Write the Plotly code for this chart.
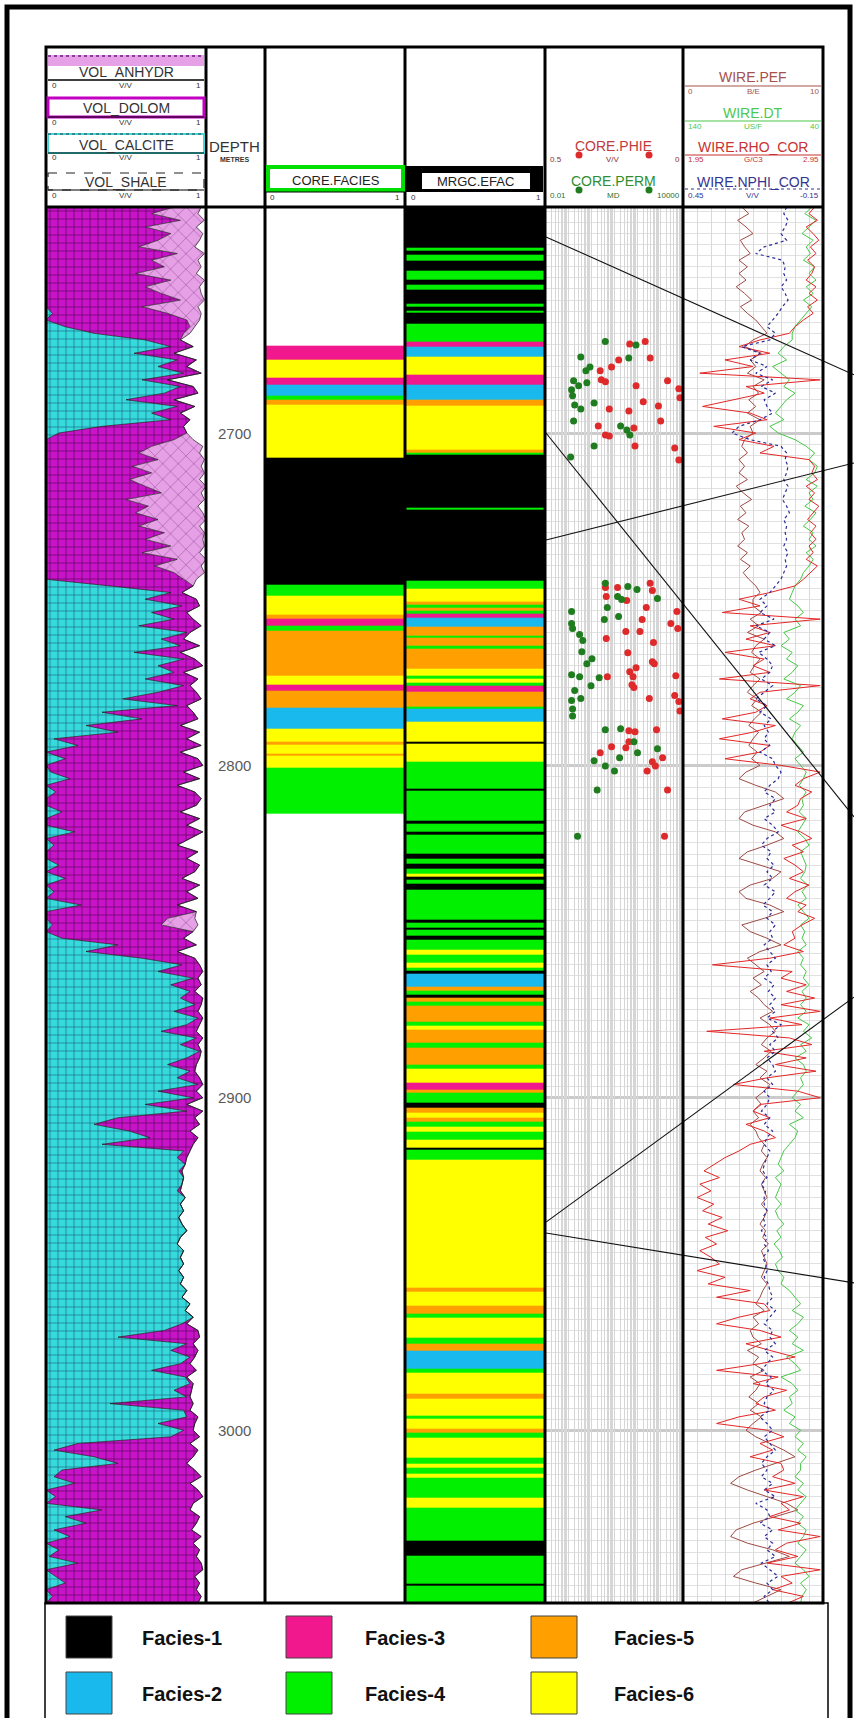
import plotly.graph_objects as go

W, H = 854, 1718
FONT = "Liberation Sans, Arial, sans-serif"


def px(x):
    return x / W


def py(y):
    return 1 - y / H


# ---------------- data ----------------
DEPTH = [
    2632, 2634, 2636, 2638, 2640, 2642, 2644, 2646, 2648, 2650,
    2652, 2654, 2656, 2658, 2660, 2662, 2664, 2666, 2668, 2670,
    2672, 2674, 2676, 2678, 2680, 2682, 2684, 2686, 2688, 2690,
    2692, 2694, 2696, 2698, 2700, 2702, 2704, 2706, 2708, 2710,
    2712, 2714, 2716, 2718, 2720, 2722, 2724, 2726, 2728, 2730,
    2732, 2734, 2736, 2738, 2740, 2742, 2744, 2746, 2748, 2750,
    2752, 2754, 2756, 2758, 2760, 2762, 2764, 2766, 2768, 2770,
    2772, 2774, 2776, 2778, 2780, 2782, 2784, 2786, 2788, 2790,
    2792, 2794, 2796, 2798, 2800, 2802, 2804, 2806, 2808, 2810,
    2812, 2814, 2816, 2818, 2820, 2822, 2824, 2826, 2828, 2830,
    2832, 2834, 2836, 2838, 2840, 2842, 2844, 2846, 2848, 2850,
    2852, 2854, 2856, 2858, 2860, 2862, 2864, 2866, 2868, 2870,
    2872, 2874, 2876, 2878, 2880, 2882, 2884, 2886, 2888, 2890,
    2892, 2894, 2896, 2898, 2900, 2902, 2904, 2906, 2908, 2910,
    2912, 2914, 2916, 2918, 2920, 2922, 2924, 2926, 2928, 2930,
    2932, 2934, 2936, 2938, 2940, 2942, 2944, 2946, 2948, 2950,
    2952, 2954, 2956, 2958, 2960, 2962, 2964, 2966, 2968, 2970,
    2972, 2974, 2976, 2978, 2980, 2982, 2984, 2986, 2988, 2990,
    2992, 2994, 2996, 2998, 3000, 3002, 3004, 3006, 3008, 3010,
    3012, 3014, 3016, 3018, 3020, 3022, 3024, 3026, 3028, 3030,
    3032, 3034, 3036, 3038, 3040, 3042, 3044, 3046, 3048, 3050,
    3052]

# right edge of the calcite fill and of the dolomite fill (cumulative, V/V)
CALCITE_TOP = [
    0, 0, 0, 0, 0, 0, 0, 0, 0, 0,
    0, 0, 0, 0, 0, 0, 0.04, 0, 0.12, 0.30,
    0.62, 0.78, 0.55, 0.82, 0.70, 0.86, 0.60, 0.84, 0.74, 0.50,
    0.82, 0.66, 0.78, 0.35, 0.08, 0, 0, 0, 0, 0,
    0, 0, 0, 0, 0, 0, 0, 0, 0, 0,
    0, 0, 0, 0, 0, 0, 0, 0.40, 0.78, 0.62,
    0.85, 0.66, 0.80, 0.58, 0.88, 0.72, 0.84, 0.55, 0.86, 0.70,
    0.80, 0.62, 0.86, 0.70, 0.48, 0.82, 0.35, 0.60, 0.25, 0.45,
    0.05, 0.20, 0, 0.12, 0, 0.03, 0.15, 0, 0.06, 0,
    0, 0.10, 0, 0, 0.18, 0, 0.05, 0, 0, 0.08,
    0, 0.12, 0, 0.05, 0, 0.22, 0, 0, 0.04, 0,
    0.10, 0.45, 0.25, 0.60, 0.85, 0.70, 0.92, 0.78, 0.90, 0.84,
    0.93, 0.80, 0.95, 0.88, 0.72, 0.94, 0.84, 0.96, 0.88, 0.76,
    0.90, 0.82, 0.95, 0.70, 0.92, 0.62, 0.88, 0.45, 0.30, 0.52,
    0.65, 0.35, 0.86, 0.82, 0.87, 0.83, 0.86, 0.85, 0.82, 0.87,
    0.84, 0.86, 0.83, 0.85, 0.88, 0.84, 0.82, 0.86, 0.84, 0.86,
    0.83, 0.86, 0.84, 0.88, 0.85, 0.90, 0.87, 0.92, 0.85, 0.74,
    0.45, 0.88, 0.78, 0.90, 0.84, 0.66, 0.87, 0.90, 0.80, 0.88,
    0.40, 0.86, 0.88, 0.70, 0.86, 0.78, 0.20, 0.05, 0.30, 0.45,
    0.10, 0.05, 0.18, 0, 0.06, 0, 0.35, 0.12, 0.25, 0.05,
    0.15, 0, 0.08, 0.02, 0.20, 0, 0.06, 0.12, 0, 0.04,
    0]

DOLOMITE_TOP = [
    0.80, 0.66, 0.84, 0.62, 0.78, 0.70, 0.58, 0.82, 0.66, 0.74,
    0.56, 0.78, 0.62, 0.72, 0.84, 0.60, 0.76, 0.88, 0.90, 0.86,
    0.84, 0.92, 0.80, 0.94, 0.88, 0.97, 0.76, 0.92, 0.95, 0.80,
    0.93, 0.84, 0.90, 0.86, 0.88, 0.80, 0.66, 0.58, 0.70, 0.54,
    0.66, 0.52, 0.62, 0.72, 0.50, 0.64, 0.56, 0.70, 0.58, 0.74,
    0.62, 0.78, 0.60, 0.82, 0.68, 0.80, 0.86, 0.92, 0.85, 0.94,
    0.96, 0.88, 0.92, 0.97, 0.90, 0.86, 0.96, 0.84, 0.93, 0.98,
    0.86, 0.95, 0.90, 0.94, 0.97, 0.88, 0.92, 0.95, 0.84, 0.96,
    0.88, 0.97, 0.84, 0.95, 0.98, 0.86, 0.96, 0.82, 0.93, 0.97,
    0.94, 0.84, 0.96, 0.88, 0.98, 0.90, 0.82, 0.95, 0.88, 0.96,
    0.93, 0.85, 0.96, 0.88, 0.95, 0.82, 0.94, 0.76, 0.72, 0.92,
    0.86, 0.94, 0.82, 0.93, 0.96, 0.98, 0.95, 0.97, 0.93, 0.98,
    0.97, 0.95, 0.98, 0.96, 0.94, 0.98, 0.95, 0.97, 0.96, 0.94,
    0.93, 0.96, 0.98, 0.94, 0.98, 0.88, 0.98, 0.93, 0.96, 0.90,
    0.95, 0.92, 0.90, 0.88, 0.87, 0.85, 0.86, 0.85, 0.84, 0.87,
    0.84, 0.86, 0.83, 0.85, 0.88, 0.84, 0.82, 0.86, 0.84, 0.86,
    0.83, 0.86, 0.84, 0.88, 0.85, 0.90, 0.87, 0.92, 0.88, 0.95,
    0.96, 0.92, 0.95, 0.93, 0.90, 0.94, 0.88, 0.92, 0.91, 0.90,
    0.92, 0.90, 0.95, 0.93, 0.92, 0.96, 0.90, 0.95, 0.92, 0.88,
    0.93, 0.97, 0.90, 0.95, 0.98, 0.92, 0.90, 0.96, 0.94, 0.91,
    0.97, 0.92, 0.96, 0.94, 0.97, 0.98, 0.93, 0.96, 0.94, 0.97,
    0.95]

# anhydrite volume (V/V), stacked on top of the dolomite edge
VOL_ANHYDR = [
    0.17, 0.29, 0.15, 0.32, 0.20, 0.26, 0.35, 0.17, 0.29, 0.23,
    0.38, 0.21, 0.34, 0.25, 0.15, 0.35, 0.21, 0.08, 0.03, 0.04,
    0, 0, 0, 0, 0, 0, 0, 0, 0, 0,
    0, 0, 0, 0, 0, 0.12, 0.32, 0.38, 0.29, 0.43,
    0.33, 0.44, 0.38, 0.25, 0.49, 0.31, 0.42, 0.30, 0.38, 0.25,
    0.36, 0.21, 0.36, 0.18, 0.29, 0.19, 0.08, 0, 0, 0,
    0, 0, 0, 0, 0, 0, 0, 0, 0, 0,
    0, 0, 0, 0, 0, 0, 0, 0, 0, 0,
    0, 0, 0, 0, 0, 0, 0, 0, 0, 0,
    0, 0, 0, 0, 0, 0, 0, 0, 0, 0,
    0, 0, 0, 0, 0, 0, 0, 0.17, 0.23, 0,
    0, 0, 0, 0, 0, 0, 0, 0, 0, 0,
    0, 0, 0, 0, 0, 0, 0, 0, 0, 0,
    0, 0, 0, 0, 0, 0, 0, 0, 0, 0,
    0, 0, 0, 0, 0, 0, 0, 0, 0, 0,
    0, 0, 0, 0, 0, 0, 0, 0, 0, 0,
    0, 0, 0, 0, 0, 0, 0, 0, 0, 0,
    0, 0, 0, 0, 0, 0, 0, 0, 0, 0,
    0, 0, 0, 0, 0, 0, 0, 0, 0, 0,
    0, 0, 0, 0, 0, 0, 0, 0, 0, 0,
    0, 0, 0, 0, 0, 0, 0, 0, 0, 0,
    0]

WIRE_PEF = [
    4.2, 4.7, 3.9, 4.5, 5.0, 4.1, 4.4, 4.8, 4.0, 4.6,
    4.0, 4.5, 3.8, 4.4, 4.9, 4.1, 4.6, 5.2, 5.6, 6.0,
    5.0, 4.4, 5.6, 4.8, 5.2, 4.6, 5.8, 5.0, 5.4, 4.7,
    5.2, 4.6, 5.5, 4.8, 5.0, 4.4, 4.2, 4.6, 4.0, 4.4,
    4.0, 4.6, 3.8, 4.3, 4.9, 4.1, 4.5, 3.9, 4.7, 4.2,
    4.4, 3.9, 4.6, 4.1, 4.8, 4.3, 4.7, 5.2, 5.5, 5.0,
    5.0, 5.6, 4.8, 5.4, 4.6, 5.8, 5.2, 4.9, 5.5, 5.1,
    4.8, 5.5, 5.0, 4.6, 5.3, 4.9, 5.6, 5.1, 4.7, 5.4,
    5.0, 4.7, 5.3, 4.9, 5.5, 4.5, 4.0, 5.2, 6.6, 7.2,
    5.8, 4.4, 4.0, 5.0, 6.6, 7.2, 6.0, 4.6, 4.0, 5.5,
    7.0, 6.4, 4.8, 4.0, 4.5, 6.2, 7.2, 5.8, 4.2, 4.8,
    6.0, 7.0, 5.5, 4.6, 5.2, 5.8, 5.0, 5.6, 4.8, 5.4,
    5.8, 6.4, 5.5, 6.2, 6.6, 6.0, 5.6, 6.3, 5.8, 5.2,
    6.0, 5.5, 6.2, 5.8, 5.2, 5.6, 5.0, 5.4, 4.8, 5.2,
    5.4, 5.8, 5.6, 6.0, 5.7, 5.5, 5.9, 5.6, 5.8, 6.0,
    5.6, 6.0, 5.8, 5.5, 5.9, 5.7, 6.1, 5.6, 5.8, 6.0,
    5.8, 5.6, 6.0, 5.7, 5.5, 5.2, 5.8, 5.0, 5.4, 4.8,
    5.0, 5.6, 4.6, 5.4, 5.0, 5.8, 4.8, 5.5, 5.2, 4.7,
    5.4, 4.8, 5.6, 5.0, 4.5, 5.2, 6.2, 7.2, 8.0, 6.6,
    5.2, 4.0, 3.4, 4.6, 6.0, 7.4, 8.2, 6.6, 5.0, 3.8,
    3.4, 4.6, 6.4, 7.6, 5.8, 4.2, 3.6, 5.2, 7.0, 6.0,
    5.0]

WIRE_RHO_COR = [
    2.89, 2.85, 2.91, 2.83, 2.88, 2.92, 2.86, 2.90, 2.84, 2.89,
    2.87, 2.83, 2.90, 2.85, 2.91, 2.84, 2.88, 2.81, 2.75, 2.71,
    2.50, 2.35, 2.57, 2.25, 2.45, 2.07, 2.93, 2.40, 2.53, 2.30,
    2.09, 2.43, 2.55, 2.17, 2.47, 2.35, 2.60, 2.50, 2.85, 2.89,
    2.87, 2.91, 2.83, 2.89, 2.85, 2.92, 2.88, 2.84, 2.90, 2.86,
    2.90, 2.85, 2.88, 2.83, 2.91, 2.86, 2.81, 2.75, 2.57, 2.35,
    2.50, 2.23, 2.93, 2.43, 2.57, 2.40, 2.61, 2.25, 2.53, 2.45,
    2.57, 2.21, 2.93, 2.50, 2.43, 2.55, 2.47, 2.23, 2.61, 2.45,
    2.21, 2.57, 2.50, 2.25, 2.65, 2.93, 2.81, 2.75, 2.87, 2.79,
    2.77, 2.69, 2.83, 2.65, 2.79, 2.87, 2.73, 2.81, 2.67, 2.75,
    2.81, 2.71, 2.85, 2.75, 2.69, 2.83, 2.77, 2.89, 2.80, 2.73,
    2.75, 2.67, 2.81, 2.57, 2.16, 2.73, 2.65, 2.83, 2.69, 2.89,
    2.65, 2.93, 2.57, 2.80, 2.12, 2.71, 2.87, 2.53, 2.83, 2.61,
    2.90, 2.55, 2.31, 2.77, 2.93, 2.50, 2.45, 2.57, 2.40, 2.53,
    2.61, 2.43, 2.35, 2.25, 2.17, 2.10, 2.21, 2.07, 2.15, 2.05,
    2.17, 2.09, 2.23, 2.13, 2.27, 2.11, 2.19, 2.07, 2.15, 2.21,
    2.05, 2.25, 2.13, 2.43, 2.19, 2.53, 2.57, 2.35, 2.19, 2.50,
    2.65, 2.40, 2.57, 2.75, 2.50, 2.19, 2.63, 2.45, 2.69, 2.53,
    2.47, 2.61, 2.35, 2.19, 2.55, 2.67, 2.50, 2.59, 2.43, 2.65,
    2.67, 2.59, 2.75, 2.53, 2.81, 2.65, 2.71, 2.57, 2.79, 2.63,
    2.93, 2.69, 2.61, 2.77, 2.55, 2.93, 2.65, 2.73, 2.59, 2.81,
    2.70]

WIRE_NPHI_COR = [
    0.006, 0.018, 0.0, 0.012, 0.03, 0.006, 0.102, 0.138, 0.024, 0.012,
    0.018, 0.006, 0.03, 0.012, 0.0, 0.024, 0.042, 0.066, 0.09, 0.054,
    0.078, 0.198, 0.12, 0.162, 0.09, 0.138, 0.066, 0.114, 0.054, 0.102,
    0.09, 0.066, 0.12, 0.21, 0.24, 0.162, 0.03, 0.006, 0.012, 0.0,
    0.006, 0.018, 0.0, 0.012, 0.024, 0.006, -0.006, 0.018, 0.006, 0.012,
    0.006, 0.018, 0.0, 0.012, 0.006, 0.018, 0.03, 0.054, 0.078, 0.12,
    0.09, 0.12, 0.06, 0.138, 0.078, 0.102, 0.054, 0.126, 0.09, 0.066,
    0.078, 0.114, 0.066, 0.102, 0.138, 0.09, 0.12, 0.072, 0.102, 0.084,
    0.102, 0.078, 0.12, 0.066, 0.054, 0.03, 0.042, 0.078, 0.102, 0.054,
    0.078, 0.054, 0.102, 0.066, 0.042, 0.09, 0.114, 0.072, 0.09, 0.06,
    0.09, 0.066, 0.102, 0.054, 0.078, 0.108, 0.066, 0.09, 0.054, 0.078,
    0.066, 0.102, 0.078, 0.054, 0.09, 0.072, 0.102, 0.06, 0.084, 0.054,
    0.078, 0.054, 0.09, 0.03, 0.066, 0.042, 0.078, 0.054, 0.09, 0.066,
    0.054, 0.09, 0.066, 0.102, 0.078, 0.09, 0.114, 0.078, 0.102, 0.066,
    0.09, 0.102, 0.078, 0.09, 0.102, 0.108, 0.09, 0.114, 0.096, 0.102,
    0.102, 0.09, 0.108, 0.096, 0.114, 0.09, 0.102, 0.084, 0.108, 0.096,
    0.09, 0.102, 0.084, 0.078, 0.066, 0.09, 0.054, 0.078, 0.102, 0.066,
    0.078, 0.054, 0.102, 0.066, 0.09, 0.114, 0.072, 0.096, 0.06, 0.09,
    0.102, 0.078, 0.12, 0.09, 0.066, 0.102, 0.078, 0.054, 0.09, 0.114,
    0.09, 0.114, 0.066, 0.102, 0.054, 0.138, 0.09, 0.078, 0.12, 0.066,
    0.102, 0.066, 0.09, 0.054, 0.114, 0.078, 0.042, 0.09, 0.066, 0.102,
    0.08]

WIRE_DT = [
    48, 53, 45, 50, 55, 47, 52, 49, 54, 46,
    50, 45, 52, 47, 54, 48, 52, 56, 60, 62,
    62, 68, 72, 66, 76, 70, 64, 68, 60, 66,
    70, 74, 68, 78, 72, 60, 52, 46, 50, 44,
    46, 52, 44, 50, 47, 53, 45, 49, 54, 47,
    50, 45, 52, 47, 50, 54, 56, 60, 62, 64,
    58, 54, 60, 56, 68, 64, 70, 62, 66, 58,
    62, 68, 56, 60, 66, 54, 58, 64, 56, 60,
    62, 58, 54, 60, 56, 52, 54, 57, 52, 55,
    54, 57, 52, 55, 58, 53, 50, 56, 54, 52,
    53, 56, 51, 55, 52, 58, 54, 50, 56, 53,
    55, 52, 58, 54, 56, 52, 54, 50, 55, 52,
    56, 52, 58, 50, 54, 48, 56, 52, 60, 54,
    52, 56, 54, 58, 62, 56, 60, 54, 64, 58,
    60, 64, 68, 70, 72, 68, 74, 70, 72, 74,
    70, 74, 72, 68, 73, 70, 75, 71, 69, 74,
    72, 68, 70, 64, 60, 56, 62, 54, 58, 64,
    58, 62, 54, 66, 60, 56, 70, 62, 58, 64,
    62, 68, 60, 64, 56, 60, 54, 58, 52, 56,
    56, 60, 54, 58, 52, 56, 60, 54, 58, 52,
    54, 58, 52, 56, 60, 54, 50, 56, 52, 55,
    56]

# facies intervals: top depth of each interval and facies code (None = no core)
CORE_FACIES_TOP = [2631.0, 2673.8, 2678.0, 2683.4, 2685.5, 2688.8, 2690.0, 2691.5,
                   2707.5, 2745.5, 2748.9, 2754.6, 2755.8, 2757.9, 2759.4, 2773.0,
                   2775.7, 2777.5, 2782.7, 2789.0, 2792.9, 2793.8, 2796.4, 2797.0,
                   2800.8, 2814.6]
CORE_FACIES_CODE = [None, 3, 6, 3, 2, 4, 5, 6,
                    1, 4, 6, 5, 3, 4, 5, 6,
                    3, 5, 2, 6, 5, 6, 5, 6,
                    4, None]

MRGC_TOP = [2631.0, 2644.2, 2645.1, 2646.3, 2648.1, 2651.1, 2653.8, 2655.4, 2656.9, 2661.1,
            2662.0, 2663.2, 2663.8, 2667.1, 2672.5, 2674.1, 2677.1, 2682.5, 2685.5, 2690.0,
            2691.9, 2705.1, 2706.0, 2706.6, 2722.6, 2723.1, 2744.3, 2746.8, 2750.7, 2751.6,
            2752.5, 2753.4, 2754.3, 2755.5, 2758.2, 2760.9, 2761.6, 2764.0, 2764.8, 2770.9,
            2773.0, 2774.0, 2775.0, 2776.0, 2777.8, 2782.4, 2783.0, 2786.9, 2792.9, 2793.5,
            2798.9, 2807.1, 2807.5, 2816.7, 2817.6, 2819.8, 2820.7, 2826.7, 2828.0, 2829.5,
            2831.2, 2832.5, 2833.6, 2834.5, 2835.6, 2837.3, 2846.3, 2847.3, 2848.7, 2849.5,
            2851.1, 2852.3, 2855.4, 2856.9, 2859.3, 2860.8, 2861.8, 2862.6, 2866.5, 2867.7,
            2868.9, 2869.8, 2871.2, 2872.4, 2877.1, 2878.3, 2879.5, 2883.4, 2884.9, 2890.0,
            2891.1, 2895.5, 2897.6, 2898.6, 2901.5, 2903.0, 2904.5, 2906.0, 2907.2, 2908.7,
            2910.3, 2912.7, 2915.1, 2915.7, 2918.7, 2957.0, 2958.2, 2962.4, 2964.9, 2966.2,
            2972.1, 2973.9, 2976.0, 2981.4, 2982.7, 2989.0, 2990.5, 2995.6, 2996.5, 2999.5,
            3000.8, 3002.2, 3008.3, 3010.1, 3011.3, 3013.1, 3014.3, 3020.4, 3023.4, 3033.3,
            3037.9, 3046.3, 3046.9]
MRGC_CODE = [1, 4, 1, 4, 1, 4, 1, 4, 1, 4,
             1, 4, 1, 4, 3, 2, 6, 3, 2, 5,
             6, 5, 4, 1, 4, 1, 4, 6, 5, 4,
             5, 4, 3, 2, 5, 4, 5, 4, 5, 6,
             4, 6, 4, 3, 5, 4, 2, 6, 1, 6,
             4, 1, 4, 1, 4, 1, 4, 1, 4, 1,
             4, 6, 1, 4, 1, 4, 1, 4, 1, 4,
             1, 4, 6, 4, 6, 4, 1, 2, 5, 4,
             1, 5, 4, 5, 4, 6, 5, 4, 5, 4,
             6, 3, 5, 4, 1, 5, 6, 5, 4, 6,
             4, 6, 1, 4, 6, 5, 6, 5, 4, 6,
             4, 5, 2, 4, 6, 5, 6, 4, 6, 5,
             4, 6, 4, 6, 4, 6, 4, 6, 4, 1,
             4, 1, 4]
BASE_DEPTH = 3052.0

# core plugs
PHIE_DEPTH = [2673.2, 2672.5, 2677.4, 2678.0, 2680.1, 2681.3, 2684.0, 2684.6, 2684.3, 2685.8,
              2686.7, 2689.4, 2690.6, 2691.9, 2692.8, 2693.4, 2696.4, 2697.9, 2698.5, 2700.6,
              2700.9, 2703.9, 2704.5, 2708.1,
              2746.5, 2746.5, 2745.2, 2747.4, 2749.2, 2750.4, 2752.5, 2753.7, 2757.3, 2756.1,
              2759.7, 2759.7, 2758.8, 2761.8, 2763.0, 2766.1, 2768.8, 2769.4, 2770.6, 2771.8,
              2773.3, 2773.3, 2773.0, 2775.7, 2776.6, 2779.9, 2779.0, 2780.8, 2783.6, 2789.6,
              2789.9, 2789.3, 2794.4, 2796.2, 2794.7, 2792.9, 2797.7, 2798.9, 2800.2, 2801.7,
              2807.4, 2821.3]
PHIE_VALUE = [0.193, 0.137, 0.119, 0.233, 0.259, 0.300, 0.296, 0.281, 0.056, 0.170,
              0.015, 0.011, 0.144, 0.089, 0.267, 0.196, 0.081, 0.307, 0.178, 0.281,
              0.267, 0.174, 0.030, 0.015,
              0.281, 0.237, 0.119, 0.111, 0.278, 0.204, 0.133, 0.022, 0.044, 0.148,
              0.156, 0.207, 0.019, 0.278, 0.107, 0.200, 0.111, 0.104, 0.170, 0.193,
              0.181, 0.274, 0.026, 0.185, 0.178, 0.122, 0.030, 0.015, 0.011, 0.196,
              0.174, 0.096, 0.259, 0.300, 0.207, 0.196, 0.074, 0.111, 0.100, 0.130,
              0.056, 0.067]

PERM_DEPTH = [2672.5, 2673.5, 2677.1, 2677.4, 2681.3, 2680.1, 2684.3, 2685.8, 2684.9, 2687.0,
              2688.8, 2691.6, 2692.8, 2691.0, 2696.4, 2697.9, 2699.1, 2700.6, 2703.9, 2707.2,
              2745.2, 2746.2, 2747.1, 2749.2, 2749.8, 2750.1, 2752.5, 2755.2, 2756.1, 2753.7,
              2757.3, 2758.8, 2760.6, 2762.4, 2765.8, 2767.9, 2769.4, 2772.7, 2773.3, 2773.6,
              2776.0, 2777.5, 2779.9, 2780.5, 2783.0, 2785.1, 2789.3, 2789.0, 2792.9, 2797.7,
              2798.6, 2800.2, 2801.7, 2795.0, 2796.2, 2807.4, 2821.3]
PERM_VALUE = [4.19, 90.3, 0.36, 44.0, 0.60, 0.90, 0.175, 0.29, 0.66, 0.143,
              0.158, 0.195, 0.36, 1.36, 0.175, 19.4, 36.0, 49.0, 1.36, 0.13,
              4.2, 40.0, 100.0, 14.3, 774.0, 21.5, 5.1, 15.8, 3.8, 0.143,
              0.143, 0.158, 0.32, 0.44, 0.40, 1.1, 0.66, 0.143, 0.32, 2.27,
              1.0, 0.195, 0.36, 0.143, 0.158, 0.158, 4.2, 19.4, 73.6, 17.5,
              1.36, 4.2, 10.5, 774.0, 105.0, 1.85, 0.26]

DEPTH_LABELS = [2700, 2800, 2900, 3000]

# zoom-link lines: depth on the MRGC track -> depth at the page edge
LINK_FROM_DEPTH = [2641.0, 2700.0, 2732.2, 2937.4, 2940.7]
LINK_TO_DEPTH = [2682.5, 2815.5, 2709.0, 2869.7, 2955.7]

FACIES_NAMES = ["Facies-1", "Facies-2", "Facies-3", "Facies-4", "Facies-5", "Facies-6"]
FACIES_COLORS = ["#000000", "#19B9EE", "#F0188C", "#00F000", "#FFA000", "#FFFF00"]

PHIE_RANGE = [0.5, 0.0]
PERM_RANGE = [0.01, 10000]
PEF_RANGE = [0, 10]
DT_RANGE = [140, 40]
RHO_RANGE = [1.95, 2.95]
NPHI_RANGE = [0.45, -0.15]

for name, arr in [("CALCITE_TOP", CALCITE_TOP), ("DOLOMITE_TOP", DOLOMITE_TOP),
                  ("VOL_ANHYDR", VOL_ANHYDR), ("WIRE_PEF", WIRE_PEF),
                  ("WIRE_RHO_COR", WIRE_RHO_COR), ("WIRE_NPHI_COR", WIRE_NPHI_COR),
                  ("WIRE_DT", WIRE_DT)]:
    if len(arr) != len(DEPTH):
        raise SystemExit(f"{name} has {len(arr)} values, expected {len(DEPTH)}")

ANHYDRITE_TOP = [d + a for d, a in zip(DOLOMITE_TOP, VOL_ANHYDR)]

# ---------------- figure ----------------
TOP_PX, BOT_PX = 207, 1603
Y_RANGE = [3052, 2632]
YDOM = [py(BOT_PX), py(TOP_PX)]

fig = go.Figure()

# lithology track
fig.add_trace(go.Scatter(
    x=CALCITE_TOP, y=DEPTH, xaxis="x", yaxis="y", mode="lines",
    line=dict(color="#1a1a1a", width=0.7), fill="tozerox", fillcolor="#36DADA",
    fillpattern=dict(shape="+", fgcolor="#1B6A86", bgcolor="#36DADA", size=8,
                     solidity=0.16, fillmode="replace"),
    hoverinfo="skip"))
fig.add_trace(go.Scatter(
    x=DOLOMITE_TOP, y=DEPTH, xaxis="x", yaxis="y", mode="lines",
    line=dict(color="#1a1a1a", width=0.7), fill="tonextx", fillcolor="#C814C8",
    fillpattern=dict(shape="+", fgcolor="#560656", bgcolor="#C814C8", size=8,
                     solidity=0.16, fillmode="replace"),
    hoverinfo="skip"))
fig.add_trace(go.Scatter(
    x=ANHYDRITE_TOP, y=DEPTH, xaxis="x", yaxis="y", mode="lines",
    line=dict(color="#1a1a1a", width=0.7), fill="tonextx", fillcolor="#E6A0E6",
    fillpattern=dict(shape="x", fgcolor="#8A3A8A", bgcolor="#E6A0E6", size=11,
                     solidity=0.08, fillmode="replace"),
    hoverinfo="skip"))

# facies colourscale (discrete)
cs = []
for i, c in enumerate(FACIES_COLORS):
    cs.append([i / 6, c])
    cs.append([(i + 1) / 6, c])

fig.add_trace(go.Heatmap(
    x=[0, 1], y=CORE_FACIES_TOP + [BASE_DEPTH], z=[[v] for v in CORE_FACIES_CODE],
    xaxis="x2", yaxis="y", colorscale=cs, zmin=0.5, zmax=6.5, showscale=False,
    hoverinfo="skip"))
fig.add_trace(go.Heatmap(
    x=[0, 1], y=MRGC_TOP + [BASE_DEPTH], z=[[v] for v in MRGC_CODE],
    xaxis="x3", yaxis="y", colorscale=cs, zmin=0.5, zmax=6.5, showscale=False,
    hoverinfo="skip"))

# core plugs
fig.add_trace(go.Scatter(
    x=PHIE_VALUE, y=PHIE_DEPTH, xaxis="x4", yaxis="y2", mode="markers",
    marker=dict(color="#DE2A2A", size=7), hoverinfo="skip"))
fig.add_trace(go.Scatter(
    x=PERM_VALUE, y=PERM_DEPTH, xaxis="x5", yaxis="y2", mode="markers",
    marker=dict(color="#1F7D1F", size=7), hoverinfo="skip"))

# wireline
fig.add_trace(go.Scatter(x=WIRE_DT, y=DEPTH, xaxis="x7", yaxis="y3", mode="lines",
                         line=dict(color="#45C845", width=1), hoverinfo="skip"))
fig.add_trace(go.Scatter(x=WIRE_PEF, y=DEPTH, xaxis="x6", yaxis="y3", mode="lines",
                         line=dict(color="#9E4A44", width=1), hoverinfo="skip"))
fig.add_trace(go.Scatter(x=WIRE_NPHI_COR, y=DEPTH, xaxis="x9", yaxis="y3", mode="lines",
                         line=dict(color="#2B2B99", width=1.2, dash="dot"), hoverinfo="skip"))
fig.add_trace(go.Scatter(x=WIRE_RHO_COR, y=DEPTH, xaxis="x8", yaxis="y3", mode="lines",
                         line=dict(color="#E32626", width=1), hoverinfo="skip"))


def xax(domain=None, rng=None, anchor="y", **kw):
    d = dict(range=rng, anchor=anchor, showticklabels=False, ticks="", showgrid=False,
             zeroline=False, showline=False, fixedrange=True)
    if domain is not None:
        d["domain"] = domain
    d.update(kw)
    return d


def yax(anchor, grid):
    d = dict(domain=YDOM, range=Y_RANGE, anchor=anchor, showticklabels=False, ticks="",
             zeroline=False, showline=False, fixedrange=True, showgrid=grid)
    if grid:
        d.update(tick0=2700, dtick=100, gridcolor="#CBCBCB", gridwidth=3,
                 minor=dict(tick0=2700, dtick=10 / 3, showgrid=True, gridcolor="#E1E1E1",
                            gridwidth=1))
    return d


fig.update_layout(
    width=W, height=H, margin=dict(l=0, r=0, t=0, b=0),
    paper_bgcolor="white", plot_bgcolor="white", showlegend=False,
    xaxis=xax([px(46), px(206)], [0, 1], "y"),
    xaxis2=xax([px(265), px(405)], [0, 1], "y"),
    xaxis3=xax([px(405), px(545)], [0, 1], "y"),
    xaxis4=xax([px(545), px(683)], PHIE_RANGE, "y2"),
    xaxis5=xax(None, [-2, 4], "y2", overlaying="x4", type="log", showgrid=True,
               dtick="D1", gridcolor="#D6D6D6", gridwidth=1),
    xaxis6=xax([px(683), px(823)], PEF_RANGE, "y3", showgrid=True, dtick=1,
               gridcolor="#D9D9D9", gridwidth=1),
    xaxis7=xax(None, DT_RANGE, "y3", overlaying="x6"),
    xaxis8=xax(None, RHO_RANGE, "y3", overlaying="x6"),
    xaxis9=xax(None, NPHI_RANGE, "y3", overlaying="x6"),
    yaxis=yax("x", False),
    yaxis2=yax("x4", True),
    yaxis3=yax("x6", True),
)

shapes = []


def line(x0, y0, x1, y1, color="black", width=1, dash=None):
    ln = dict(color=color, width=width)
    if dash:
        ln["dash"] = dash
    shapes.append(dict(type="line", xref="paper", yref="paper", x0=px(x0), y0=py(y0),
                       x1=px(x1), y1=py(y1), line=ln, layer="above"))


def rect(x0, y0, x1, y1, color="black", width=1, fill=None, dash=None):
    ln = dict(color=color, width=width)
    if dash:
        ln["dash"] = dash
    s = dict(type="rect", xref="paper", yref="paper", x0=px(x0), y0=py(y0), x1=px(x1),
             y1=py(y1), line=ln, layer="above")
    if fill:
        s["fillcolor"] = fill
    shapes.append(s)


def dot(x, y, color, r=3.5):
    shapes.append(dict(type="circle", xref="paper", yref="paper", x0=px(x - r), y0=py(y + r),
                       x1=px(x + r), y1=py(y - r), fillcolor=color, line=dict(width=0),
                       layer="above"))


def txt(x, y, s, size=12, color="#333333", anchor="center", bold=False):
    fig.add_annotation(x=px(x), y=py(y), xref="paper", yref="paper",
                       text=f"<b>{s}</b>" if bold else s, showarrow=False,
                       xanchor=anchor, yanchor="middle",
                       font=dict(size=size, color=color, family=FONT))


# zoom-link lines
for d0, d1 in zip(LINK_FROM_DEPTH, LINK_TO_DEPTH):
    shapes.append(dict(type="line", xref="paper", yref="y", x0=px(546), x1=1.0,
                       y0=d0, y1=d1, line=dict(color="#111111", width=1.1), layer="above"))

# outer page border
rect(7, 7, 850, 1760, width=5)
# legend box
rect(45, 1603, 828, 1760, width=1.5)
# main frame
rect(46, 47, 823, 1603, width=3)
for xv in [206, 265, 405, 545, 683]:
    line(xv, 47, xv, 1603, width=3)
line(46, 207, 823, 207, width=3)

# ---- headers: lithology track
rect(48, 55, 204, 66, color="#E6A0E6", width=0, fill="#E6A0E6")
line(48, 56, 204, 56, color="#8E3C9A", width=2, dash="dot")
txt(126, 72, "VOL_ANHYDR", 14)
line(48, 80, 204, 80)
rect(48, 98, 204, 117, color="#C400C4", width=3, fill="white")
txt(126, 108, "VOL_DOLOM", 14)
rect(48, 134, 204, 153, color="#45D5D5", width=2, fill="white")
line(48, 134, 204, 134, color="#2A8E8E", width=2, dash="dot")
txt(126, 145, "VOL_CALCITE", 14)
rect(48, 173, 204, 190, color="#222222", width=1.2, dash="dash")
txt(126, 182, "VOL_SHALE", 14)
for yl, yt in [(80, 86), (117, 122), (153, 158), (190, 195)]:
    line(48, yl, 204, yl)
    txt(50, yt, "0", 8, anchor="left")
    txt(126, yt, "V/V", 8)
    txt(203, yt, "1", 8, anchor="right")

# depth header + labels
txt(235, 147, "DEPTH", 15)
txt(235, 160, "METRES", 7, bold=True)
for dv in DEPTH_LABELS:
    fig.add_annotation(x=px(235), y=dv, xref="paper", yref="y", text=str(dv),
                       showarrow=False, xanchor="center", yanchor="middle",
                       font=dict(size=15, color="#5A5A5A", family=FONT))

# CORE.FACIES header
rect(268, 167, 403, 190, color="#00E000", width=4, fill="white")
txt(336, 180, "CORE.FACIES", 13, "#222222")
line(265, 192, 405, 192)
txt(268, 197, "0", 8, anchor="left")
txt(402, 197, "1", 8, anchor="right")

# MRGC.EFAC header
rect(405, 166, 543, 192, color="black", width=0, fill="black")
rect(422, 173, 530, 189, color="white", width=0, fill="white")
txt(476, 181, "MRGC.EFAC", 13, "#222222")
txt(409, 197, "0", 8, anchor="left")
txt(543, 197, "1", 8, anchor="right")

# CORE header
txt(613, 146, "CORE.PHIE", 14, "#C23B3B")
dot(579, 155, "#DE2A2A")
dot(649, 155, "#DE2A2A")
txt(548, 160, f"{PHIE_RANGE[0]}", 8, "#8A3030", anchor="left")
txt(613, 160, "V/V", 8, "#8A3030")
txt(682, 160, f"{PHIE_RANGE[1]:g}", 8, "#8A3030", anchor="right")
txt(613, 181, "CORE.PERM", 14, "#2F8F2F")
dot(579, 190, "#1F7D1F")
dot(649, 190, "#1F7D1F")
txt(548, 195, f"{PERM_RANGE[0]:g}", 8, "#2F6F2F", anchor="left")
txt(613, 195, "MD", 8, "#2F6F2F")
txt(682, 195, f"{PERM_RANGE[1]:g}", 8, "#2F6F2F", anchor="right")

# WIRE header
wire_hdr = [
    ("WIRE.PEF", "#A5524C", 77, 86, 92, PEF_RANGE, "B/E", None),
    ("WIRE.DT", "#4CC84C", 113, 121, 126, DT_RANGE, "US/F", None),
    ("WIRE.RHO_COR", "#C83232", 147, 155, 160, RHO_RANGE, "G/C3", None),
    ("WIRE.NPHI_COR", "#34348E", 182, 189, 195, NPHI_RANGE, "V/V", "dot"),
]
for name, col, yt, yl, ys, rng, unit, dsh in wire_hdr:
    txt(753, yt, name, 14, col)
    line(685, yl, 821, yl, color=col, width=1.2, dash=dsh)
    txt(686, ys, f"{rng[0]:g}", 8, col, anchor="left")
    txt(753, ys, unit, 8, col)
    txt(821, ys, f"{rng[1]:g}", 8, col, anchor="right")

# facies legend
sq_x = [66, 66, 286, 286, 531, 531]
sq_y = [1616, 1672, 1616, 1672, 1616, 1672]
tx_x = [140, 140, 363, 363, 612, 612]
for name, col, sx, sy, tx in zip(FACIES_NAMES, FACIES_COLORS, sq_x, sq_y, tx_x):
    rect(sx, sy, sx + 46, sy + 42, color="#444444", width=1, fill=col)
    txt(tx, sy + 22, name, 20, "#111111", anchor="left", bold=True)

fig.update_layout(shapes=shapes)
fig.write_html(
    "out.html",
    config={"displayModeBar": False, "staticPlot": True},
    post_script="document.body.style.margin='0px';document.body.style.overflow='hidden';",
)
